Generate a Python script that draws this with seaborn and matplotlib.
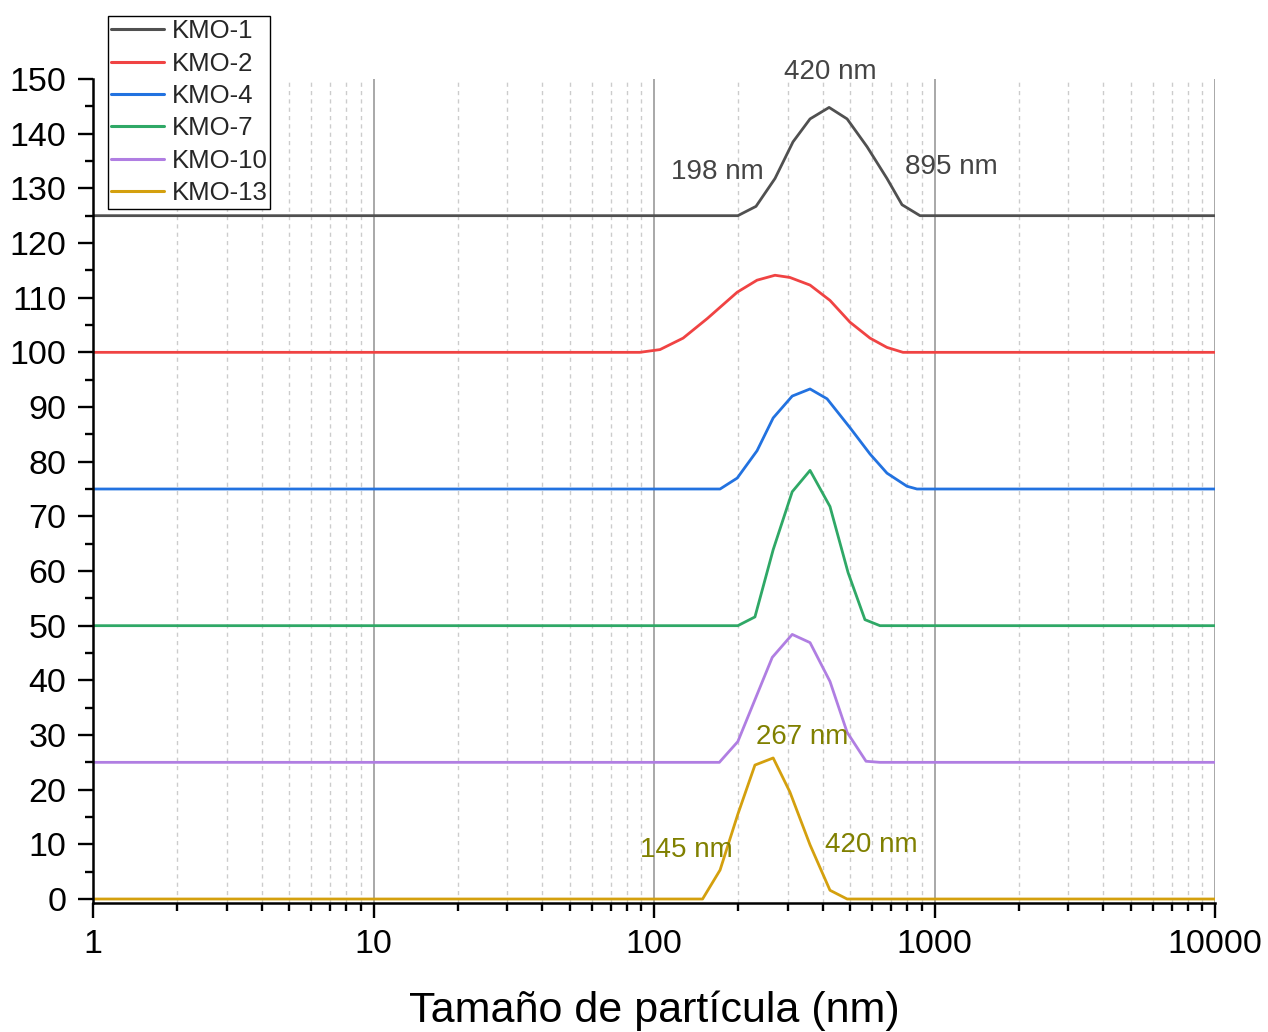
import numpy as np
import pandas as pd
import matplotlib
matplotlib.use("Agg")
import matplotlib.pyplot as plt
import seaborn as sns
from matplotlib.ticker import LogLocator, MultipleLocator, FuncFormatter, NullFormatter

sns.set_theme(style="white")
plt.rcParams['font.family'] = ['Liberation Sans', 'DejaVu Sans']

# ---- data (particle size in nm, relative intensity, vertical offset) ----
names = ["KMO-1", "KMO-2", "KMO-4", "KMO-7", "KMO-10", "KMO-13"]
offsets = [125, 100, 75, 50, 25, 0]
colors = ["#505050", "#f04343", "#2272e0", "#2fa866", "#b07ee2", "#d4a00e"]

kmo1_x = [1, 199, 231, 270, 313, 360, 421, 488, 575, 677, 766, 888, 10000]
kmo1_y = [0, 0, 1.7, 6.8, 13.5, 17.7, 19.8, 17.7, 12.6, 6.8, 2.0, 0, 0]

kmo2_x = [1, 89, 105, 127, 155, 198, 233, 270, 305, 360, 424, 500, 589, 677, 772, 10000]
kmo2_y = [0, 0, 0.5, 2.6, 6.2, 11.0, 13.2, 14.1, 13.7, 12.3, 9.5, 5.5, 2.6, 0.9, 0, 0]

kmo4_x = [1, 172, 198, 233, 266, 311, 360, 414, 500, 589, 677, 798, 866, 10000]
kmo4_y = [0, 0, 2.0, 7.0, 13.0, 17.0, 18.3, 16.5, 11.2, 6.4, 2.9, 0.5, 0, 0]

kmo7_x = [1, 199, 229, 266, 311, 360, 424, 492, 565, 639, 10000]
kmo7_y = [0, 0, 1.6, 13.9, 24.5, 28.4, 21.8, 9.7, 1.1, 0, 0]

kmo10_x = [1, 171, 199, 264, 311, 360, 424, 488, 570, 639, 10000]
kmo10_y = [0, 0, 3.8, 19.2, 23.4, 21.9, 14.8, 5.5, 0.2, 0, 0]

kmo13_x = [1, 149, 172, 199, 229, 266, 305, 360, 424, 488, 10000]
kmo13_y = [0, 0, 5.3, 15.5, 24.5, 25.8, 19.6, 9.9, 1.6, 0, 0]

xs_all = [kmo1_x, kmo2_x, kmo4_x, kmo7_x, kmo10_x, kmo13_x]
ys_all = [kmo1_y, kmo2_y, kmo4_y, kmo7_y, kmo10_y, kmo13_y]

# annotations: (text, x, y, color)
annot_text = ["420 nm", "198 nm", "895 nm", "267 nm", "145 nm", "420 nm"]
annot_x = [424, 168, 1145, 337, 130, 594]
annot_y = [151.3, 133.0, 133.9, 29.6, 9.0, 9.9]
annot_col = ["#444444", "#444444", "#444444", "#808000", "#808000", "#808000"]

rows = []
for name, xs, ys, off in zip(names, xs_all, ys_all, offsets):
    for x, y in zip(xs, ys):
        rows.append({"size": x, "value": y + off, "sample": name})
df = pd.DataFrame(rows)

fig = plt.figure(figsize=(12.68, 10.32), dpi=100)
ax = fig.add_axes([93 / 1268, 1 - 903 / 1032, 1122 / 1268, 824 / 1032])

sns.lineplot(data=df, x="size", y="value", hue="sample", hue_order=names,
             palette=dict(zip(names, colors)), estimator=None, sort=False,
             linewidth=2.0, ax=ax)
ax.set_xscale("log")
ax.set_xlim(1, 10000)
ax.set_ylim(-0.73, 150)

# grid
ax.xaxis.set_major_locator(LogLocator(base=10, numticks=10))
ax.xaxis.set_minor_locator(LogLocator(base=10, subs=np.arange(2, 10), numticks=100))
ax.xaxis.set_major_formatter(FuncFormatter(lambda v, p: f"{int(round(v))}"))
ax.xaxis.set_minor_formatter(NullFormatter())
ax.yaxis.set_major_locator(MultipleLocator(10))
ax.yaxis.set_minor_locator(MultipleLocator(5))
ax.set_axisbelow(True)
ax.grid(True, which="major", axis="x", color="#9a9a9a", lw=1.2, ls="-")
ax.grid(True, which="minor", axis="x", color="#cccccc", lw=1.0, ls=(0, (3, 3)))
ax.grid(False, axis="y")

for s in ["top", "right"]:
    ax.spines[s].set_visible(False)
for s in ["left", "bottom"]:
    ax.spines[s].set_color("black")
    ax.spines[s].set_linewidth(1.8)

ax.tick_params(which="both", bottom=True, left=True, direction="out", color="black", width=1.7)
ax.tick_params(which="major", length=11, labelsize=24.5, pad=8, labelcolor="black")
ax.tick_params(which="minor", length=6)

ax.set_xlabel("Tamaño de partícula (nm)", fontsize=31, labelpad=22, color="black")
ax.set_ylabel("")

for t, x, y, c in zip(annot_text, annot_x, annot_y, annot_col):
    ax.text(x, y, t, ha="center", va="center", fontsize=20, color=c, clip_on=False)

handles, labels = ax.get_legend_handles_labels()
leg = ax.legend(handles, labels, loc="upper left", bbox_to_anchor=(0.0134, 1.0765),
                frameon=True, fancybox=False, edgecolor="black", facecolor="white",
                fontsize=18.5, handlelength=2.05, handletextpad=0.3, labelspacing=0.33,
                borderpad=0.12, borderaxespad=0, framealpha=1)
leg.get_frame().set_linewidth(1.0)
for h in leg.get_lines():
    h.set_linewidth(2.2)

fig.savefig("out.png", dpi=100)
